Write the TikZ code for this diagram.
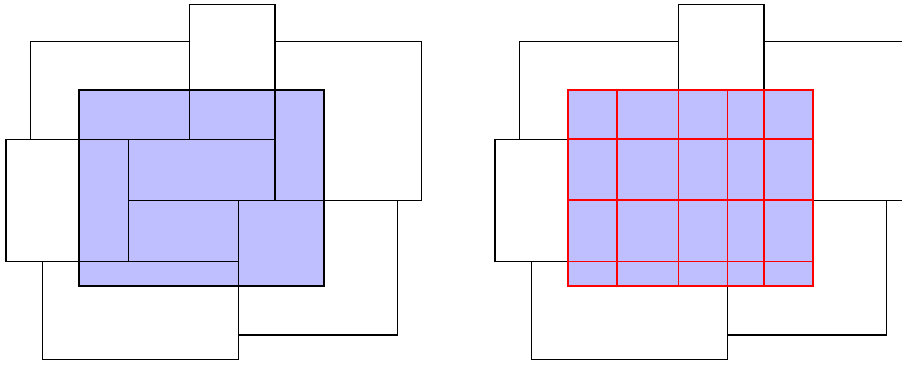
\documentclass[tikz,border=0pt]{standalone}
\begin{document}
\begin{tikzpicture}[x=0.25cm,y=-0.25cm,
  box/.style={draw=black},
  region/.style={fill=blue!25},
  regionline/.style={draw=black,semithick},
  gridline/.style={draw=red,line width=0.5pt},
  gridborder/.style={draw=red,semithick}]
\useasboundingbox (-0.245,-0.192) rectangle (36.64,14.733);
\newcommand\myboxes{%
  \draw[box] (1,1.5) rectangle (7.5,5.5);
  \draw[box] (7.5,0) rectangle (11,5.5);
  \draw[box] (11,1.5) rectangle (17,8);
  \draw[box] (0,5.5) rectangle (5,10.5);
  \draw[box] (1.5,10.5) rectangle (9.5,14.5);
  \draw[box] (9.5,8) rectangle (16,13.5);
  \draw[box] (5,5.5) rectangle (11,8);
}
% left panel
\fill[region] (3,3.5) rectangle (13,11.5);
\myboxes
\draw[regionline] (3,3.5) rectangle (13,11.5);
% right panel
\begin{scope}[xshift=5cm]
\fill[region] (3,3.5) rectangle (13,11.5);
\myboxes
\foreach \xx in {5,7.5,9.5,11} \draw[gridline] (\xx,3.5) -- (\xx,11.5);
\foreach \yy in {5.5,8,10.5} \draw[gridline] (3,\yy) -- (13,\yy);
\draw[gridborder] (3,3.5) rectangle (13,11.5);
\end{scope}
\end{tikzpicture}
\end{document}
